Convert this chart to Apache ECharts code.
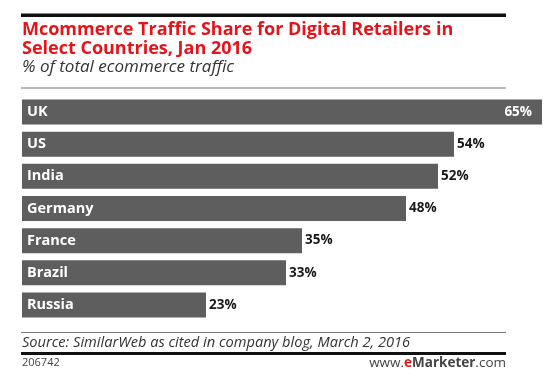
<!DOCTYPE html>
<html><head><meta charset="utf-8">
<script src="https://cdn.jsdelivr.net/npm/echarts@6/dist/echarts.min.js"></script>
<style>html,body{margin:0;padding:0;background:#fff}#c{width:560px;height:387px}</style>
</head><body><div id="c"></div>
<script>
const categories = ["UK", "US", "India", "Germany", "France", "Brazil", "Russia"];
const values = [65, 54, 52, 48, 35, 33, 23];
const titleLines = ["Mcommerce Traffic Share for Digital Retailers in", "Select Countries, Jan 2016"];
const subtitle = "% of total ecommerce traffic";
const source = "Source: SimilarWeb as cited in company blog, March 2, 2016";
const chartId = "206742";

const chart = echarts.init(document.getElementById('c'), null, {renderer: 'canvas'});
const FONT = '"Open Sans", "Liberation Sans", sans-serif';
chart.setOption({
  animation: false,
  backgroundColor: '#fff',
  grid: {left: 22, right: 18, top: 96, height: 225, containLabel: false},
  xAxis: {type: 'value', min: 0, max: 65, show: false},
  yAxis: {type: 'category', data: categories, inverse: true, show: false},
  series: [{
    type: 'bar',
    data: values.map((v, i) => ({
      value: v,
      label: i === 0 ? {position: 'insideRight', color: '#fff', offset: [-5, 0]} : {position: 'right', color: '#1a1a1a', distance: 3}
    })),
    barWidth: 25,
    itemStyle: {color: '#5e5e5e'},
    label: {show: true, fontFamily: FONT, fontWeight: 'bold', fontSize: 13.5, formatter: p => p.value + '%'},
    z: 2
  }, {
    type: 'bar',
    data: values,
    barWidth: 25,
    barGap: '-100%',
    itemStyle: {color: 'transparent'},
    label: {show: true, position: 'insideLeft', distance: 5, color: '#fff', fontFamily: FONT, fontWeight: 'bold', fontSize: 14.5,
      formatter: p => categories[p.dataIndex]},
    silent: true,
    z: 3
  }],
  graphic: [
    {type: 'rect', shape: {x: 21, y: 13.5, width: 485, height: 3.5}, style: {fill: '#111'}},
    {type: 'text', left: 22, top: 21, style: {text: titleLines[0], font: 'bold 18px ' + FONT, fill: '#e5141a'}},
    {type: 'text', left: 22, top: 40, style: {text: titleLines[1], font: 'bold 18px ' + FONT, fill: '#e5141a'}},
    {type: 'text', left: 22, top: 59, style: {text: subtitle, font: 'italic 17px ' + FONT, fill: '#333'}},
    {type: 'rect', shape: {x: 21, y: 87.5, width: 485, height: 1}, style: {fill: '#777'}},
    {type: 'rect', shape: {x: 21, y: 332, width: 485, height: 1}, style: {fill: '#777'}},
    {type: 'text', left: 22, top: 335, style: {text: source, font: 'italic 14.6px ' + FONT, fill: '#333'}},
    {type: 'rect', shape: {x: 21, y: 352, width: 485, height: 3}, style: {fill: '#111'}},
    {type: 'text', left: 22, top: 357, style: {text: chartId, font: '11px ' + FONT, fill: '#444'}},
    {type: 'text', right: 54, top: 356, style: {
      text: '{a|www.}{b|e}{c|Marketer}{a|.com}',
      rich: {
        a: {font: '13.5px ' + FONT, fill: '#444'},
        b: {font: 'bold 13.5px ' + FONT, fill: '#e5141a'},
        c: {font: 'bold 13.5px ' + FONT, fill: '#444'}
      }
    }}
  ]
});
</script></body></html>
